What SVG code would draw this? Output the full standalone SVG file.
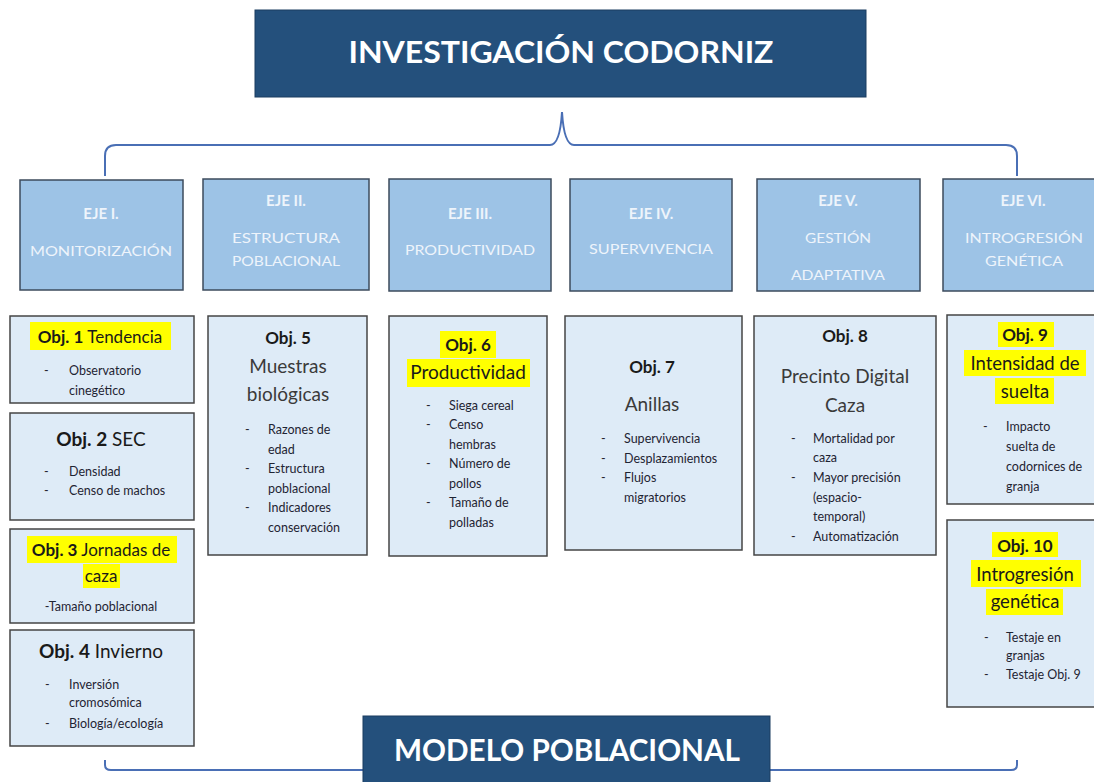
<svg xmlns="http://www.w3.org/2000/svg" width="1094" height="782" viewBox="0 0 1094 782">
<style>
.title{fill:#24507c;stroke:#1b3d60;stroke-width:1}
.ttxt{font-family:Lato,"Liberation Sans",sans-serif;font-weight:700;font-size:30px;fill:#fff;text-anchor:middle}
.eje{fill:#9dc3e6;stroke:#3d4b5c;stroke-width:1.5}
.eh{font-family:Lato,"Liberation Sans",sans-serif;font-weight:700;font-size:15px;fill:#eef4fb;text-anchor:middle}
.es{font-family:Lato,"Liberation Sans",sans-serif;font-size:13.5px;fill:#eef4fb;text-anchor:middle}
.obj{fill:#deebf7;stroke:#454545;stroke-width:1.5}
.hl{fill:#ffff00}
.oh{font-family:Lato,"Liberation Sans",sans-serif;font-size:17px;fill:#1a1a1a;text-anchor:middle}
.b{font-weight:700}
.big{font-family:Lato,"Liberation Sans",sans-serif;font-size:19px;fill:#3a3a3a;text-anchor:middle}
.t{font-family:Lato,"Liberation Sans",sans-serif;font-size:12.5px;fill:#1e2433}
.c{text-anchor:middle}
.br{fill:none;stroke:#4a6fb5;stroke-width:2}
</style>

<g id="connectors">
<path class="br" d="M105,176 L105,156 Q105,145 116,145 L550,145 Q560,145 562,112 Q564,145 574,145 L1006,145 Q1017,145 1017,156 L1017,176"/>
<path class="br" d="M105,760 L105,765 Q105,770 111,770 L1011,770 Q1017,770 1017,765 L1017,760"/>
</g>

<g id="title">
<rect class="title" x="255" y="10" width="611" height="87"/>
<text class="ttxt" x="561" y="63" textLength="425" lengthAdjust="spacingAndGlyphs">INVESTIGACIÓN CODORNIZ</text>
</g>

<g id="eje1">
<rect class="eje" x="20" y="180" width="163" height="110"/>
<text class="eh" x="101" y="219">EJE I.</text>
<text class="es" x="101" y="256" textLength="142" lengthAdjust="spacingAndGlyphs">MONITORIZACIÓN</text>
</g>
<g id="eje2">
<rect class="eje" x="203" y="179" width="166" height="111"/>
<text class="eh" x="286" y="206">EJE II.</text>
<text class="es" x="286" y="243" textLength="108" lengthAdjust="spacingAndGlyphs">ESTRUCTURA</text>
<text class="es" x="286" y="266" textLength="108" lengthAdjust="spacingAndGlyphs">POBLACIONAL</text>
</g>
<g id="eje3">
<rect class="eje" x="389" y="179" width="162" height="112"/>
<text class="eh" x="470" y="219">EJE III.</text>
<text class="es" x="470" y="255" textLength="130" lengthAdjust="spacingAndGlyphs">PRODUCTIVIDAD</text>
</g>
<g id="eje4">
<rect class="eje" x="570" y="179" width="162" height="112"/>
<text class="eh" x="651" y="219">EJE IV.</text>
<text class="es" x="651" y="254" textLength="124" lengthAdjust="spacingAndGlyphs">SUPERVIVENCIA</text>
</g>
<g id="eje5">
<rect class="eje" x="757" y="179" width="163" height="112"/>
<text class="eh" x="838" y="206">EJE V.</text>
<text class="es" x="838" y="243" textLength="66" lengthAdjust="spacingAndGlyphs">GESTIÓN</text>
<text class="es" x="838" y="280" textLength="94" lengthAdjust="spacingAndGlyphs">ADAPTATIVA</text>
</g>
<g id="eje6">
<rect class="eje" x="943" y="179" width="162" height="112"/>
<text class="eh" x="1023" y="206">EJE VI.</text>
<text class="es" x="1024" y="243" textLength="118" lengthAdjust="spacingAndGlyphs">INTROGRESIÓN</text>
<text class="es" x="1024" y="266" textLength="78" lengthAdjust="spacingAndGlyphs">GENÉTICA</text>
</g>

<g id="obj1">
<rect class="obj" x="10" y="316" width="184" height="87"/>
<rect class="hl" x="30" y="322" width="141" height="28"/>
<text class="oh" x="100" y="343"><tspan class="b">Obj. 1</tspan> Tendencia</text>
<text class="t" x="44" y="375">-</text><text class="t" x="69" y="375">Observatorio</text>
<text class="t" x="69" y="395">cinegético</text>
</g>
<g id="obj2">
<rect class="obj" x="10" y="413" width="184" height="107"/>
<text class="oh" x="101" y="446" style="font-size:19px"><tspan class="b">Obj. 2</tspan> SEC</text>
<text class="t" x="44" y="476">-</text><text class="t" x="69" y="476">Densidad</text>
<text class="t" x="44" y="495">-</text><text class="t" x="69" y="495">Censo de machos</text>
</g>
<g id="obj3">
<rect class="obj" x="10" y="529" width="184" height="94"/>
<rect class="hl" x="27" y="536" width="150" height="27"/>
<rect class="hl" x="83" y="564" width="37" height="24"/>
<text class="oh" x="101" y="556"><tspan class="b">Obj. 3</tspan> Jornadas de</text>
<text class="oh" x="101" y="582">caza</text>
<text class="t c" x="101" y="611">-Tamaño poblacional</text>
</g>
<g id="obj4">
<rect class="obj" x="10" y="630" width="184" height="116"/>
<text class="oh" x="101" y="658" style="font-size:19px"><tspan class="b">Obj. 4</tspan> Invierno</text>
<text class="t" x="45" y="689">-</text><text class="t" x="69" y="689">Inversión</text>
<text class="t" x="69" y="707">cromosómica</text>
<text class="t" x="45" y="728">-</text><text class="t" x="69" y="728">Biología/ecología</text>
</g>

<g id="obj5">
<rect class="obj" x="208" y="316" width="159" height="239"/>
<text class="oh b" x="288" y="344">Obj. 5</text>
<text class="big" x="288" y="373">Muestras</text>
<text class="big" x="288" y="401">biológicas</text>
<text class="t" x="245" y="434">-</text><text class="t" x="268" y="434">Razones de</text>
<text class="t" x="268" y="454">edad</text>
<text class="t" x="245" y="473">-</text><text class="t" x="268" y="473">Estructura</text>
<text class="t" x="268" y="493">poblacional</text>
<text class="t" x="245" y="512">-</text><text class="t" x="268" y="512">Indicadores</text>
<text class="t" x="268" y="532">conservación</text>
</g>
<g id="obj6">
<rect class="obj" x="389" y="316" width="158" height="240"/>
<rect class="hl" x="440" y="331" width="56" height="27"/>
<rect class="hl" x="407" y="359" width="123" height="28"/>
<text class="oh b" x="468" y="351">Obj. 6</text>
<text class="oh" x="468" y="379" style="font-size:19px">Productividad</text>
<text class="t" x="426" y="410">-</text><text class="t" x="449" y="410">Siega cereal</text>
<text class="t" x="426" y="429">-</text><text class="t" x="449" y="429">Censo</text>
<text class="t" x="449" y="449">hembras</text>
<text class="t" x="426" y="468">-</text><text class="t" x="449" y="468">Número de</text>
<text class="t" x="449" y="488">pollos</text>
<text class="t" x="426" y="507">-</text><text class="t" x="449" y="507">Tamaño de</text>
<text class="t" x="449" y="527">polladas</text>
</g>
<g id="obj7">
<rect class="obj" x="565" y="316" width="177" height="234"/>
<text class="oh b" x="652" y="373">Obj. 7</text>
<text class="big" x="652" y="411">Anillas</text>
<text class="t" x="601" y="443">-</text><text class="t" x="624" y="443">Supervivencia</text>
<text class="t" x="601" y="463">-</text><text class="t" x="624" y="463">Desplazamientos</text>
<text class="t" x="601" y="482">-</text><text class="t" x="624" y="482">Flujos</text>
<text class="t" x="624" y="502">migratorios</text>
</g>
<g id="obj8">
<rect class="obj" x="754" y="316" width="182" height="239"/>
<text class="oh b" x="845" y="342">Obj. 8</text>
<text class="big" x="845" y="383">Precinto Digital</text>
<text class="big" x="845" y="412">Caza</text>
<text class="t" x="791" y="443">-</text><text class="t" x="813" y="443">Mortalidad por</text>
<text class="t" x="813" y="462">caza</text>
<text class="t" x="791" y="482">-</text><text class="t" x="813" y="482">Mayor precisión</text>
<text class="t" x="813" y="502">(espacio-</text>
<text class="t" x="813" y="521">temporal)</text>
<text class="t" x="791" y="541">-</text><text class="t" x="813" y="541">Automatización</text>
</g>
<g id="obj9">
<rect class="obj" x="947" y="315" width="158" height="189"/>
<rect class="hl" x="998" y="322" width="56" height="25"/>
<rect class="hl" x="964" y="350" width="122" height="26"/>
<rect class="hl" x="995" y="378" width="59" height="26"/>
<text class="oh b" x="1025" y="341">Obj. 9</text>
<text class="oh" x="1025" y="370" style="font-size:18.5px">Intensidad de</text>
<text class="oh" x="1025" y="398" style="font-size:18.5px">suelta</text>
<text class="t" x="983" y="431">-</text><text class="t" x="1006" y="431">Impacto</text>
<text class="t" x="1006" y="451">suelta de</text>
<text class="t" x="1006" y="471">codornices de</text>
<text class="t" x="1006" y="491">granja</text>
</g>
<g id="obj10">
<rect class="obj" x="947" y="520" width="158" height="187"/>
<rect class="hl" x="992" y="532" width="66" height="25"/>
<rect class="hl" x="971" y="560" width="110" height="27"/>
<rect class="hl" x="986" y="589" width="77" height="26"/>
<text class="oh b" x="1025" y="552">Obj. 10</text>
<text class="oh" x="1025" y="581" style="font-size:18.5px">Introgresión</text>
<text class="oh" x="1025" y="608" style="font-size:18.5px">genética</text>
<text class="t" x="984" y="642">-</text><text class="t" x="1006" y="642">Testaje en</text>
<text class="t" x="1006" y="660">granjas</text>
<text class="t" x="984" y="679">-</text><text class="t" x="1006" y="679">Testaje Obj. 9</text>
</g>

<g id="modelo">
<rect class="title" x="363" y="716" width="407" height="72"/>
<text class="ttxt" x="567" y="761" textLength="346" lengthAdjust="spacingAndGlyphs">MODELO POBLACIONAL</text>
</g>
</svg>
